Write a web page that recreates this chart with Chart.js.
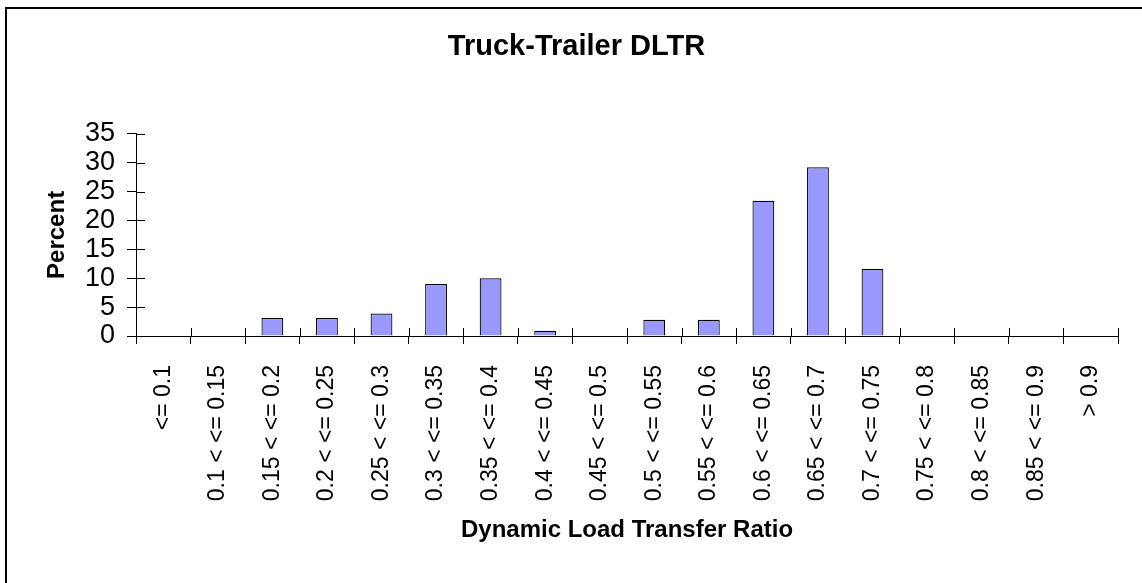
<!DOCTYPE html>
<html>
<head>
<meta charset="utf-8">
<title>Truck-Trailer DLTR</title>
<script src="https://cdn.jsdelivr.net/npm/chart.js@4/dist/chart.umd.min.js"></script>
<style>
  html, body { margin: 0; padding: 0; background: #fff; }
  #wrap { width: 1142px; height: 583px; position: relative; }
</style>
</head>
<body>
<div id="wrap"><canvas id="dltrChart"></canvas></div>
<script>
// DLTR bins and share of samples (%) in each bin
const categories = [
  '<= 0.1', '0.1 < <= 0.15', '0.15 < <= 0.2', '0.2 < <= 0.25', '0.25 < <= 0.3',
  '0.3 < <= 0.35', '0.35 < <= 0.4', '0.4 < <= 0.45', '0.45 < <= 0.5', '0.5 < <= 0.55',
  '0.55 < <= 0.6', '0.6 < <= 0.65', '0.65 < <= 0.7', '0.7 < <= 0.75', '0.75 < <= 0.8',
  '0.8 < <= 0.85', '0.85 < <= 0.9', '> 0.9'
];
const percentValues = [0, 0, 3.1, 3.1, 3.9, 9.0, 10.0, 0.9, 0, 2.8, 2.8, 23.4, 29.2, 11.6, 0, 0, 0, 0];
const yTicks = [0, 5, 10, 15, 20, 25, 30, 35];

const fontFamily = '"Liberation Sans", Arial, Helvetica, sans-serif';

// frame round the whole chart
const chartFrame = {
  id: 'chartFrame',
  beforeDraw(chart) {
    const ctx = chart.ctx;
    ctx.save();
    ctx.fillStyle = '#fff';
    ctx.fillRect(0, 0, chart.width, chart.height);
    ctx.strokeStyle = '#000';
    ctx.lineWidth = 2;
    ctx.strokeRect(6, 8, chart.width + 10, chart.height + 10);
    ctx.restore();
  }
};

// tick marks that cross the axis lines (the library only draws the outer half)
const crossTicks = {
  id: 'crossTicks',
  afterDatasetsDraw(chart) {
    const { ctx, scales: { x, y } } = chart;
    ctx.save();
    ctx.strokeStyle = '#000';
    ctx.lineWidth = 1;
    ctx.beginPath();
    const step = (x.right - x.left) / categories.length;
    for (let i = 0; i <= categories.length; i++) {
      const px = Math.round(x.left + i * step) + 0.5;
      ctx.moveTo(px, y.bottom);
      ctx.lineTo(px, y.bottom - 8);
    }
    y.ticks.forEach(t => {
      const py = Math.round(y.getPixelForValue(t.value)) + 0.5;
      ctx.moveTo(x.left, py);
      ctx.lineTo(x.left + 9, py);
    });
    ctx.stroke();
    ctx.restore();
  }
};

new Chart(document.getElementById('dltrChart'), {
  type: 'bar',
  data: {
    labels: categories,
    datasets: [{
      label: 'Percent',
      data: percentValues,
      backgroundColor: '#9999FF',
      borderColor: '#000',
      borderWidth: 1.2,
      barPercentage: 0.4,
      categoryPercentage: 1.0
    }]
  },
  options: {
    responsive: true,
    maintainAspectRatio: false,
    animation: false,
    layout: { padding: { left: 35, right: 24, top: 0, bottom: 0 } },
    plugins: {
      legend: { display: false },
      tooltip: { enabled: false },
      title: {
        display: true,
        text: 'Truck-Trailer DLTR',
        color: '#000',
        font: { family: fontFamily, size: 29, weight: 'bold' },
        padding: { top: 30, bottom: 69 }
      }
    },
    scales: {
      x: {
        grid: {
          drawOnChartArea: false,
          drawTicks: true,
          tickLength: 8,
          color: '#000',
          offset: true
        },
        border: { color: '#000', width: 1 },
        ticks: {
          autoSkip: false,
          minRotation: 90,
          maxRotation: 90,
          padding: 21,
          color: '#000',
          font: { family: fontFamily, size: 23 }
        },
        title: {
          display: true,
          text: 'Dynamic Load Transfer Ratio',
          color: '#000',
          font: { family: fontFamily, size: 24, weight: 'bold' },
          padding: { top: 0, bottom: 38 }
        },
        afterFit(scale) { scale.height = 247; }
      },
      y: {
        min: 0,
        max: 35,
        afterBuildTicks(scale) { scale.ticks = yTicks.map(v => ({ value: v })); },
        grid: {
          drawOnChartArea: false,
          drawTicks: true,
          tickLength: 9,
          color: '#000'
        },
        border: { color: '#000', width: 1 },
        ticks: {
          autoSkip: false,
          padding: 12,
          color: '#000',
          font: { family: fontFamily, size: 27 }
        },
        title: {
          display: true,
          text: 'Percent',
          color: '#000',
          font: { family: fontFamily, size: 24, weight: 'bold' },
          padding: { top: 8, bottom: 0 }
        },
        afterFit(scale) { scale.width = 101; }
      }
    }
  },
  plugins: [chartFrame, crossTicks]
});
</script>
</body>
</html>
